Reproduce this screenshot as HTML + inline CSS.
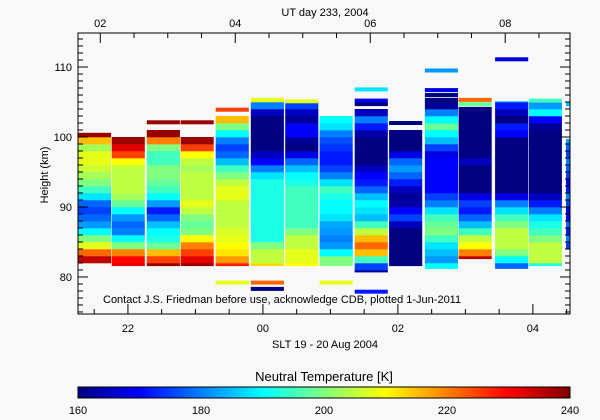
<!DOCTYPE html>
<html><head><meta charset="utf-8"><style>
html,body{margin:0;padding:0;background:#f8f8f8;}
svg{display:block;font-family:"Liberation Sans",sans-serif;}
</style></head><body>
<svg id="chart" width="600" height="420" viewBox="0 0 600 420">
<rect width="600" height="420" fill="#f8f8f8"/>
<defs>
<linearGradient id="jet" x1="0" x2="1" y1="0" y2="0">
<stop offset="0" stop-color="#000080"/><stop offset="0.125" stop-color="#0000ff"/>
<stop offset="0.375" stop-color="#00ffff"/><stop offset="0.625" stop-color="#ffff00"/>
<stop offset="0.875" stop-color="#ff0000"/><stop offset="1" stop-color="#800000"/>
</linearGradient>
<clipPath id="plotclip"><rect x="78" y="33" width="492" height="281"/></clipPath>
</defs>
<g id="cells" clip-path="url(#plotclip)"></g>
<g id="axes"></g>
<text x="103" y="303" font-size="11" fill="#000">Contact J.S. Friedman before use, acknowledge CDB, plotted 1-Jun-2011</text>
<text x="325" y="16" font-size="11" text-anchor="middle">UT day 233, 2004</text>
<text x="325" y="348" font-size="11" text-anchor="middle">SLT 19 - 20 Aug 2004</text>
<text transform="translate(48,175) rotate(-90)" font-size="11" text-anchor="middle">Height (km)</text>
<text x="324" y="381" font-size="13" text-anchor="middle">Neutral Temperature [K]</text>
<rect x="78" y="387" width="492" height="11" fill="url(#jet)" stroke="#000" stroke-width="1"/>
<g id="cbar"></g>
</svg>
<script>
// ---- data ----
const colStart = [21.26,21.76,22.28,22.78,23.30,23.82,24.33,24.84,25.36,25.87,26.40,26.90,27.44,27.94,28.49];
const colBottom = [82,81.6,81.6,81.6,81.6,81.6,81.6,81.6,80.7,81.6,81.2,82.6,81.2,81.6,84];
const colTop = [100.6,100.6,101.6,101,103.3,105.6,105.6,103.3,104.3,101,105.6,104.3,105.1,105.6,99.7];
// temperatures per 1-km bin, starting at floor(bottom)
const colTemps = [
 [235,222,208,200,190,182,178,175,178,188,195,200,203,206,208,208,203,215,238],
 [232,230,220,200,190,180,178,182,190,198,203,205,205,205,205,210,225,232,238],
 [238,225,215,198,192,190,185,178,172,182,190,195,198,200,200,195,195,200,220,238],
 [238,232,225,220,210,200,198,200,205,208,205,205,205,205,203,205,210,225,238],
 [228,218,212,210,208,207,205,205,205,205,208,208,205,200,195,185,178,175,180,190,200,215],
 [213,205,205,200,192,192,192,192,192,192,192,192,192,188,180,170,165,160,160,160,160,160,165,180,208],
 [210,208,208,205,205,200,195,195,195,195,195,195,192,190,185,178,168,160,162,170,170,162,165,175],
 [200,200,190,182,180,182,183,188,190,190,192,195,188,180,175,172,172,174,176,180,188,190],
 [162,175,195,215,222,215,205,195,185,188,190,185,178,172,170,165,160,160,160,160,163,172,180,165],
 [160,160,160,160,160,160,165,175,170,163,162,165,172,178,182,178,168,160,160,160],
 [190,182,185,188,195,200,198,195,188,180,175,170,170,170,170,170,168,175,185,190,198,190,180,162,160],
 [235,220,210,205,195,185,178,172,175,168,160,160,160,160,165,160,160,160,160,160,160,160,160],
 [178,190,200,205,205,205,200,195,188,180,168,160,160,160,160,160,160,160,160,170,172,160,165,172,185,208],
 [192,205,205,205,200,195,192,188,180,172,165,160,160,160,160,160,160,160,160,160,162,170,190,182],
 [175,180,172,178,170,168,175,180,172,170,175,178,180,175,178,182]
];
// isolated single-height bars
const barCol = [2,3,4,4,5,5,6,7,8,8,8,8,9,10,10,10,11,11,12,13,14];
const barHeight = [102.1,102.1,79.2,103.9,79.2,78.3,105.1,79.2,77.9,106.8,105.2,104.7,102.0,109.5,106.7,106.0,105.3,104.7,111.1,105.2,104.7];
const barTemp = [238,238,208,225,222,160,208,208,172,188,170,160,160,182,168,160,222,198,168,195,185];
const yTicks = [80,90,100,110];
const xTicks = [22,24,26,28];
const xTickLabels = ["22","00","02","04"];
const utTicks = [2,4,6,8];
const utTickLabels = ["02","04","06","08"];
const cbTicks = [160,180,200,220,240];

// ---- scales ----
const X0=78,X1=570,Y0=314,Y1=33;
const hMin=21.26,hMax=28.55,kmMin=74.71,kmMax=114.86;
const xs=h=>X0+(h-hMin)/(hMax-hMin)*(X1-X0);
const ys=k=>Y0-(k-kmMin)/(kmMax-kmMin)*(Y0-Y1);
const utOff=4.41;
const colW=0.49;
function jet(t){
 let v=Math.max(0,Math.min(1,(t-160)/80));
 const r=Math.max(0,Math.min(1,Math.min(4*v-1.5,-4*v+4.5)));
 const g=Math.max(0,Math.min(1,Math.min(4*v-0.5,-4*v+3.5)));
 const b=Math.max(0,Math.min(1,Math.min(4*v+0.5,-4*v+2.5)));
 return `rgb(${Math.round(r*255)},${Math.round(g*255)},${Math.round(b*255)})`;
}
const NS="http://www.w3.org/2000/svg";
function mk(tag,attrs,parent){const e=document.createElementNS(NS,tag);for(const k in attrs)e.setAttribute(k,attrs[k]);parent.appendChild(e);return e;}
const cells=document.getElementById('cells');
colStart.forEach((h,i)=>{
 const x=xs(h), w=xs(h+colW)-x;
 const b0=Math.floor(colBottom[i]);
 colTemps[i].forEach((t,j)=>{
  const lo=Math.max(b0+j,colBottom[i]), hi=Math.min(b0+j+1,colTop[i]);
  if(hi<=lo)return;
  const r=mk('rect',{x:x.toFixed(1),y:ys(hi).toFixed(1),width:w.toFixed(1),height:(ys(lo)-ys(hi)+0.3).toFixed(1),fill:jet(t)},cells);
  
  
 });
});
barCol.forEach((c,i)=>{
 const x=xs(colStart[c]), w=xs(colStart[c]+colW)-x;
 const r=mk('rect',{x:x.toFixed(1),y:(ys(barHeight[i])-2).toFixed(1),width:w.toFixed(1),height:4,fill:jet(barTemp[i])},cells);
 
 
});
// axes
const ax=document.getElementById('axes');
const frame=mk('rect',{x:X0,y:Y1,width:X1-X0,height:Y0-Y1,fill:'none',stroke:'#000','stroke-width':1},ax);


for(let k=75;k<=114;k++){
 const y=ys(k), L=(k%10===0)?10:5;
 mk('line',{x1:X0,x2:X0+L,y1:y,y2:y,stroke:'#000'},ax);
 mk('line',{x1:X1,x2:X1-L,y1:y,y2:y,stroke:'#000'},ax);
}
yTicks.forEach(k=>{
 const t=mk('text',{x:X0-6,y:ys(k)+4,'font-size':11,'text-anchor':'end'},ax);t.textContent=k;
 
 
});
for(let h=21.5;h<=28.5;h+=0.5){
 const x=xs(h),L=(Math.abs(h%2)<1e-6)?10:5;
 mk('line',{x1:x,x2:x,y1:Y0,y2:Y0-L,stroke:'#000'},ax);
}
xTicks.forEach((h,i)=>{
 const t=mk('text',{x:xs(h),y:332,'font-size':11,'text-anchor':'middle'},ax);t.textContent=xTickLabels[i];
 
 
});
for(let u=2;u<=8.9;u+=0.5){
 const x=xs(u-utOff+24);if(x<X0||x>X1)continue;
 const L=(Math.abs(u%2)<1e-6)?10:5;
 mk('line',{x1:x,x2:x,y1:Y1,y2:Y1+L,stroke:'#000'},ax);
}
utTicks.forEach((u,i)=>{
 const t=mk('text',{x:xs(u-utOff+24),y:27,'font-size':11,'text-anchor':'middle'},ax);t.textContent=utTickLabels[i];
 
 
});
const cb=document.getElementById('cbar');
cbTicks.forEach(v=>{
 const x=78+(v-160)/80*492;
 const t=mk('text',{x:x,y:414,'font-size':11,'text-anchor':'middle'},cb);t.textContent=v;
 
 
});
</script>
</body></html>
